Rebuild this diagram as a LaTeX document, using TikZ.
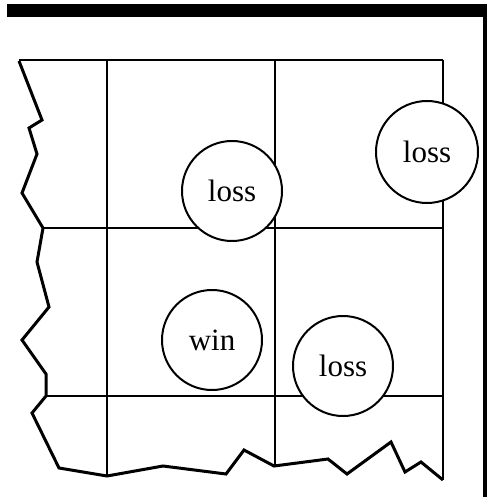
\documentclass[tikz,border=0pt]{standalone}
\usepackage{fontspec}
\setmainfont{Liberation Serif}
\definecolor{boardink}{RGB}{0,0,0}

\begin{document}
\begin{tikzpicture}[x=0.5pt,y=-0.5pt,
  outcome/.style={circle,draw=boardink,fill=white,line width=1pt,minimum size=50pt,inner sep=0pt,font=\fontsize{15.5}{18}\selectfont},
  gridline/.style={draw=boardink,line width=1.1pt},
  tornedge/.style={draw=boardink,line width=1.5pt,line join=miter}]
  \useasboundingbox (0,0) rectangle (487,497);
  % frame bars
  \fill[boardink] (7,4) rectangle (487,17);
  \fill[boardink] (483,4) rectangle (487,497);
  % grid
  \draw[gridline] (19,60) -- (443,60);
  \draw[gridline] (43,228) -- (443,228);
  \draw[gridline] (46,396) -- (443,396);
  \draw[gridline] (107,60) -- (107,476);
  \draw[gridline] (275,60) -- (275,466);
  \draw[gridline] (443,60) -- (443,480);
  % torn left and bottom edge
  \draw[tornedge] (19,61) -- (42,120) -- (29,128) -- (37,154) -- (22,193) -- (43,228)
    -- (37,262) -- (49,307) -- (22,340) -- (46,374) -- (46,396) -- (32,413) -- (59,468)
    -- (107,476) -- (163,466) -- (226,474) -- (244,450) -- (274,466) -- (328,459)
    -- (347,474) -- (391,442) -- (405,472) -- (421,462) -- (443,480);
  % outcomes
  \node[outcome] (lossA) at (232,191) {loss};
  \node[outcome,minimum size=51pt] (lossB) at (427,152) {loss};
  \node[outcome] (winA) at (212,340) {win};
  \node[outcome] (lossC) at (343,366) {loss};
\end{tikzpicture}
\end{document}
